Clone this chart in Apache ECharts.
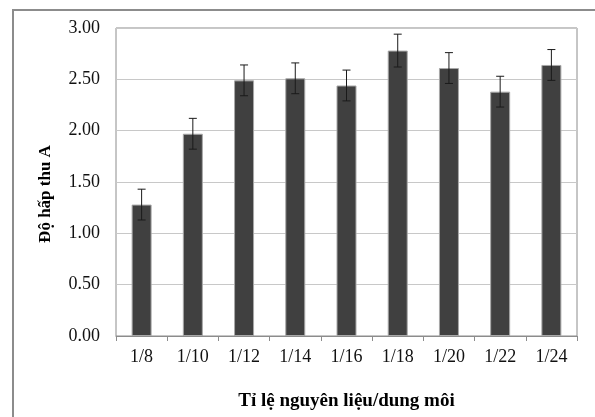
<!DOCTYPE html>
<html>
<head>
<meta charset="utf-8">
<script src="https://cdn.jsdelivr.net/npm/echarts@6/dist/echarts.min.js"></script>
<style>
  html, body { margin: 0; padding: 0; background: #fff; }
  #frame { position: absolute; left: 12px; top: 9px; width: 640px; height: 460px;
           border-left: 2px solid #8c8c8c; border-top: 2px solid #8c8c8c; }
  #main { position: absolute; left: 0; top: 0; width: 595px; height: 417px; }
</style>
</head>
<body>
<div id="frame"></div>
<div id="main"></div>
<script>
// ti le nguyen lieu / dung moi
const categories = ['1/8', '1/10', '1/12', '1/14', '1/16', '1/18', '1/20', '1/22', '1/24']
const absorbance = [1.28, 1.97, 2.49, 2.51, 2.44, 2.78, 2.61, 2.38, 2.64]
const errors = [0.15, 0.15, 0.15, 0.15, 0.15, 0.16, 0.15, 0.15, 0.15]

const font = 'Liberation Serif'
const chart = echarts.init(document.getElementById('main'))

const errData = absorbance.map((v, i) => [i, v - errors[i], v + errors[i]])

chart.setOption({
  animation: false,
  grid: {
    left: 116,
    top: 28,
    right: 18,
    bottom: 81,
    show: true,
    borderColor: '#8c8c8c',
    borderWidth: 1
  },
  xAxis: {
    type: 'category',
    data: categories,
    name: 'Tỉ lệ nguyên liệu/dung môi',
    nameLocation: 'middle',
    nameGap: 56,
    nameTextStyle: { fontFamily: font, fontWeight: 'bold', fontSize: 19, color: '#000' },
    axisLine: { lineStyle: { color: '#8c8c8c' } },
    axisTick: { show: true, length: 5, lineStyle: { color: '#8c8c8c' } },
    axisLabel: { fontFamily: font, fontSize: 18, color: '#111', margin: 12 }
  },
  yAxis: {
    type: 'value',
    min: 0,
    max: 3,
    interval: 0.5,
    name: 'Độ hấp thu A',
    nameLocation: 'middle',
    nameGap: 62,
    nameTextStyle: { fontFamily: font, fontWeight: 'bold', fontSize: 17, color: '#000',
      padding: [0, 24, 0, 0] },
    axisLine: { show: false },
    axisTick: { show: false },
    splitLine: { lineStyle: { color: '#c8c8c8' } },
    axisLabel: { fontFamily: font, fontSize: 18, color: '#111', margin: 16,
      formatter: v => v.toFixed(2) }
  },
  series: [
    {
      type: 'bar',
      data: absorbance,
      barWidth: 20,
      itemStyle: { color: '#404040', borderColor: '#a8a8a8', borderWidth: 1 }
    },
    {
      type: 'custom',
      data: errData,
      z: 10,
      renderItem(params, api) {
        const x = api.value(0)
        const lo = api.coord([x, api.value(1)])
        const hi = api.coord([x, api.value(2)])
        const w = 4
        const style = { stroke: '#1a1a1a', lineWidth: 1 }
        return {
          type: 'group',
          children: [
            { type: 'line', shape: { x1: lo[0], y1: lo[1], x2: hi[0], y2: hi[1] }, style },
            { type: 'line', shape: { x1: hi[0] - w, y1: hi[1], x2: hi[0] + w, y2: hi[1] }, style },
            { type: 'line', shape: { x1: lo[0] - w, y1: lo[1], x2: lo[0] + w, y2: lo[1] }, style }
          ]
        }
      }
    }
  ]
})
</script>
</body>
</html>
